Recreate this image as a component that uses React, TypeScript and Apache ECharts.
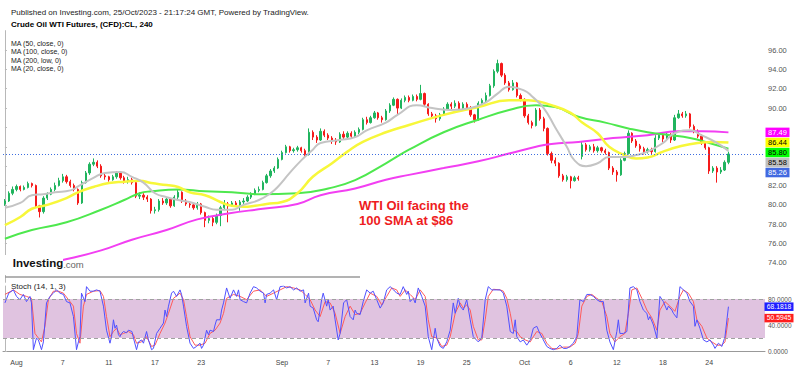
import React, { useEffect, useRef } from "react";
import * as echarts from "echarts";

const FONT = "Liberation Sans, Arial, sans-serif";

// trading days (3 bars of 8h per day)
const days = [
  "Jul 31", "Aug 1", "Aug 2", "Aug 3", "Aug 4", "Aug 7", "Aug 8", "Aug 9", "Aug 10", "Aug 11",
  "Aug 14", "Aug 15", "Aug 16", "Aug 17", "Aug 18", "Aug 21", "Aug 22", "Aug 23", "Aug 24", "Aug 25",
  "Aug 28", "Aug 29", "Aug 30", "Aug 31", "Sep 1", "Sep 4", "Sep 5", "Sep 6", "Sep 7", "Sep 8",
  "Sep 11", "Sep 12", "Sep 13", "Sep 14", "Sep 15", "Sep 18", "Sep 19", "Sep 20", "Sep 21", "Sep 22",
  "Sep 25", "Sep 26", "Sep 27", "Sep 28", "Sep 29", "Oct 2", "Oct 3", "Oct 4", "Oct 5", "Oct 6",
  "Oct 9", "Oct 10", "Oct 11", "Oct 12", "Oct 13", "Oct 16", "Oct 17", "Oct 18", "Oct 19", "Oct 20",
  "Oct 23", "Oct 24", "Oct 25",
];
const sessions = ["00:00", "08:00", "16:00"];
const padBars = 9;

const axisTicks: [string, string][] = [
  ["Aug 1", "Aug"], ["Aug 7", "7"], ["Aug 11", "11"], ["Aug 17", "17"], ["Aug 23", "23"],
  ["Sep 1", "Sep"], ["Sep 7", "7"], ["Sep 13", "13"], ["Sep 19", "19"], ["Sep 25", "25"],
  ["Oct 2", "Oct"], ["Oct 6", "6"], ["Oct 12", "12"], ["Oct 18", "18"], ["Oct 24", "24"],
];

const priceMin = 72;
const priceMax = 98;
const priceStep = 2;

// [open, close, low, high]
const candles: number[][] = [
  [80.1, 80.4, 79.9, 80.6], [80.4, 81.2, 80.3, 81.4], [81.2, 81.6, 81.0, 81.9],
  [81.6, 81.9, 81.4, 82.1], [81.9, 81.6, 81.4, 82.0], [81.6, 81.8, 81.5, 82.0],
  [81.8, 82.2, 81.7, 82.4], [82.2, 82.0, 81.8, 82.3], [82.0, 79.9, 79.7, 82.1],
  [79.9, 79.3, 78.7, 80.0], [79.3, 80.7, 79.1, 80.9], [80.7, 81.1, 80.5, 81.3],
  [81.1, 81.6, 81.0, 81.8], [81.6, 82.0, 81.4, 82.3], [82.0, 82.5, 81.9, 82.8],
  [82.5, 82.9, 82.3, 83.2], [82.9, 82.4, 82.2, 83.1], [82.4, 82.0, 81.8, 82.6],
  [82.0, 81.6, 81.4, 82.2], [81.6, 80.2, 80.0, 81.7], [80.2, 82.3, 80.1, 82.5],
  [82.3, 83.3, 82.2, 83.5], [83.3, 84.2, 83.1, 84.4], [84.2, 84.4, 84.0, 84.8],
  [84.4, 84.0, 83.8, 84.6], [84.0, 83.0, 82.8, 84.2], [83.0, 82.9, 82.6, 83.2],
  [82.9, 82.6, 82.4, 83.0], [82.6, 82.9, 82.5, 83.1], [82.9, 83.3, 82.7, 83.5],
  [83.3, 82.8, 82.6, 83.4], [82.8, 82.4, 82.2, 83.0], [82.4, 82.6, 82.2, 82.9],
  [82.6, 82.3, 82.1, 82.8], [82.3, 80.9, 80.7, 82.4], [80.9, 81.0, 80.6, 81.3],
  [81.0, 80.8, 80.5, 81.2], [80.8, 80.6, 80.3, 81.0], [80.6, 79.4, 79.1, 80.7],
  [79.4, 79.5, 79.1, 79.8], [79.5, 80.4, 79.3, 80.6], [80.4, 80.2, 80.0, 80.7],
  [80.2, 80.6, 80.0, 80.8], [80.6, 79.9, 79.7, 80.7], [79.9, 80.8, 79.8, 81.0],
  [80.8, 81.3, 80.6, 81.6], [81.3, 80.4, 80.2, 81.4], [80.4, 80.1, 79.9, 80.6],
  [80.1, 80.0, 79.7, 80.4], [80.0, 79.7, 79.5, 80.2], [79.7, 80.1, 79.5, 80.3],
  [80.1, 79.2, 79.0, 80.2], [79.2, 78.4, 77.7, 79.3], [78.4, 78.6, 78.1, 78.9],
  [78.6, 78.2, 77.8, 78.8], [78.2, 78.9, 78.0, 79.1], [78.9, 79.7, 77.8, 79.9],
  [79.7, 80.1, 79.5, 80.5], [80.1, 79.9, 78.2, 80.3], [79.9, 80.2, 79.8, 80.4],
  [80.2, 80.0, 79.8, 80.4], [80.0, 80.3, 79.4, 80.5], [80.3, 80.4, 80.1, 80.7],
  [80.4, 80.8, 80.3, 81.0], [80.8, 81.1, 80.6, 81.3], [81.1, 81.5, 81.0, 81.7],
  [81.5, 81.6, 81.3, 81.9], [81.6, 82.3, 81.5, 82.5], [82.3, 83.0, 82.2, 83.2],
  [83.0, 83.5, 82.8, 83.7], [83.5, 83.8, 83.3, 84.0], [83.8, 84.7, 83.7, 84.9],
  [84.7, 85.4, 84.6, 85.6], [85.4, 86.0, 85.3, 86.2], [86.0, 85.6, 85.4, 86.1],
  [85.6, 85.7, 85.4, 85.9], [85.7, 85.9, 85.5, 86.1], [85.9, 85.6, 85.4, 86.0],
  [85.6, 85.2, 85.0, 85.8], [85.2, 87.5, 85.1, 87.9], [87.5, 87.0, 86.7, 87.7],
  [87.0, 86.7, 86.4, 87.2], [86.7, 87.6, 86.6, 87.9], [87.6, 87.2, 87.0, 87.8],
  [87.2, 86.9, 86.7, 87.4], [86.9, 86.6, 86.3, 87.1], [86.6, 86.5, 86.2, 86.9],
  [86.5, 87.3, 86.4, 87.5], [87.3, 87.0, 86.8, 87.6], [87.0, 87.4, 86.8, 87.6],
  [87.4, 87.1, 86.9, 87.6], [87.1, 87.5, 87.0, 87.7], [87.5, 87.8, 87.3, 88.0],
  [87.8, 88.8, 87.7, 89.0], [88.8, 88.5, 88.3, 89.1], [88.5, 89.0, 88.4, 89.2],
  [89.0, 89.5, 88.9, 89.7], [89.5, 89.0, 88.8, 89.6], [89.0, 88.8, 88.5, 89.2],
  [88.8, 89.7, 88.7, 89.9], [89.7, 90.3, 89.5, 90.5], [90.3, 90.9, 90.2, 91.1],
  [90.9, 90.0, 89.4, 91.0], [90.0, 90.8, 89.9, 91.0], [90.8, 91.1, 90.6, 91.3],
  [91.1, 90.8, 90.6, 91.3], [90.8, 91.2, 90.7, 91.4], [91.2, 90.9, 90.7, 91.4],
  [90.9, 91.5, 90.8, 92.4], [91.5, 90.4, 90.2, 91.6], [90.4, 89.4, 89.2, 90.5],
  [89.4, 89.2, 88.9, 89.6], [89.2, 88.9, 88.5, 89.4], [88.9, 89.3, 88.7, 89.5],
  [89.3, 89.9, 89.2, 90.1], [89.9, 90.4, 89.8, 90.6], [90.4, 90.2, 89.9, 90.6],
  [90.2, 90.5, 90.0, 90.8], [90.5, 89.9, 89.7, 90.7], [89.9, 90.4, 89.8, 90.6],
  [90.4, 90.0, 89.8, 90.6], [90.0, 89.3, 89.1, 90.2], [89.3, 88.8, 88.5, 89.4],
  [88.8, 90.5, 88.7, 90.7], [90.5, 90.8, 90.3, 91.0], [90.8, 91.3, 90.6, 91.6],
  [91.3, 92.3, 91.2, 92.5], [92.3, 93.8, 92.1, 94.0], [93.8, 94.6, 93.6, 95.0],
  [94.6, 93.4, 93.2, 94.7], [93.4, 92.6, 92.4, 93.6], [92.6, 91.9, 91.7, 92.8],
  [91.9, 92.6, 91.8, 92.9], [92.6, 91.3, 91.1, 92.7], [91.3, 90.9, 90.7, 91.5],
  [90.9, 89.2, 89.0, 91.0], [89.2, 88.5, 88.3, 89.4], [88.5, 88.2, 87.9, 88.7],
  [88.2, 89.8, 88.1, 90.0], [89.8, 88.9, 88.7, 90.0], [88.9, 87.9, 87.6, 89.1],
  [87.9, 85.3, 85.1, 88.0], [85.3, 84.6, 84.3, 85.5], [84.6, 84.3, 84.0, 84.9],
  [84.3, 83.0, 82.8, 84.4], [83.0, 82.6, 82.4, 83.2], [82.6, 82.9, 82.4, 83.1],
  [82.9, 82.5, 81.7, 83.0], [82.5, 82.8, 82.4, 83.0], [82.8, 82.7, 82.5, 83.0],
  [85.0, 86.2, 84.7, 86.5], [86.2, 85.7, 85.5, 86.4], [85.7, 86.0, 85.5, 86.2],
  [86.0, 85.6, 85.4, 86.3], [85.6, 85.9, 85.4, 86.1], [85.9, 85.6, 85.4, 86.0],
  [85.6, 85.4, 85.2, 85.8], [85.4, 83.8, 83.6, 85.5], [83.8, 83.4, 83.1, 84.0],
  [83.4, 83.1, 82.4, 83.6], [83.1, 84.6, 83.0, 84.8], [84.6, 85.3, 84.5, 85.5],
  [85.3, 87.4, 85.2, 87.7], [87.4, 86.6, 86.4, 87.5], [86.6, 86.1, 85.9, 86.8],
  [86.1, 85.8, 85.5, 86.3], [85.8, 85.5, 85.2, 86.0], [85.5, 85.7, 85.3, 85.9],
  [85.7, 85.5, 85.2, 85.9], [85.5, 86.9, 85.4, 87.2], [86.9, 87.2, 86.7, 87.4],
  [87.2, 86.8, 86.5, 87.4], [86.8, 87.3, 86.6, 87.5], [87.3, 86.7, 86.4, 87.4],
  [86.7, 89.0, 86.6, 89.3], [89.0, 89.4, 88.9, 89.8], [89.4, 89.2, 89.0, 89.6],
  [89.2, 89.4, 89.0, 89.7], [89.4, 88.1, 87.9, 89.5], [88.1, 87.6, 87.4, 88.3],
  [87.6, 87.1, 86.9, 87.8], [87.1, 86.4, 86.2, 87.3], [86.4, 85.9, 85.7, 86.6],
  [85.9, 83.5, 83.2, 86.0], [83.5, 83.8, 83.3, 84.0], [83.8, 83.4, 82.3, 84.0],
  [83.4, 83.6, 83.2, 83.9], [83.6, 84.4, 83.5, 84.6], [84.4, 85.26, 84.2, 85.5],
];

// moving averages: [bar index, value]
const ma20: number[][] = [
  [0, 79.7], [4, 80.2], [7, 81.0], [10, 81.1], [13, 81.3], [17, 81.5], [19, 81.9], [23, 82.8],
  [26, 83.3], [30, 83.4], [33, 82.9], [36, 82.3], [39, 81.2], [42, 80.8], [45, 80.5], [48, 80.3],
  [52, 79.8], [55, 79.5], [59, 79.5], [62, 80.0], [66, 80.5], [69, 81.2], [71, 81.9], [74, 83.3],
  [77, 84.6], [80, 85.7], [82, 86.4], [87, 86.7], [91, 87.0], [94, 87.7], [99, 88.5], [102, 89.3],
  [107, 90.3], [111, 90.0], [116, 89.8], [121, 90.0], [125, 90.6], [128, 91.5], [131, 92.2],
  [135, 91.8], [137, 91.2], [140, 90.0], [143, 88.0], [146, 86.0], [148, 84.6], [151, 84.0],
  [154, 84.3], [157, 84.95], [161, 84.95], [164, 85.15], [167, 85.5], [171, 86.4], [174, 87.4],
  [178, 87.7], [181, 87.2], [185, 86.4], [188, 85.58],
];
const ma50: number[][] = [
  [0, 77.9], [4, 78.75], [7, 79.6], [11, 80.0], [16, 80.7], [19, 81.3], [23, 81.85], [27, 82.25],
  [31, 82.4], [35, 82.5], [38, 82.25], [42, 82.05], [45, 81.85], [48, 81.3], [52, 81.0], [56, 80.3],
  [59, 79.9], [62, 79.8], [65, 79.9], [68, 80.1], [72, 80.3], [76, 81.2], [80, 82.9], [85, 84.3],
  [89, 85.5], [93, 86.5], [99, 87.5], [105, 88.25], [114, 89.3], [123, 90.1], [131, 90.8],
  [136, 90.8], [142, 90.3], [147, 89.5], [150, 88.5], [154, 87.4], [157, 86.0], [161, 85.15],
  [164, 84.8], [167, 84.9], [171, 85.5], [175, 86.0], [180, 86.4], [184, 86.5], [188, 86.44],
];
const ma100: number[][] = [
  [0, 76.5], [7, 77.4], [16, 78.2], [25, 79.5], [31, 80.5], [35, 81.2], [38, 81.4], [45, 81.6],
  [52, 81.4], [59, 81.3], [66, 81.1], [76, 81.2], [84, 81.7], [91, 82.55], [99, 84.3], [105, 85.7],
  [114, 87.5], [123, 88.8], [131, 89.8], [138, 90.3], [143, 90.1], [149, 89.1], [156, 88.5],
  [162, 87.9], [167, 87.5], [173, 87.2], [178, 86.9], [183, 86.4], [188, 85.8],
];
const ma200: number[][] = [
  [0, 72.9], [14, 74.2], [25, 75.3], [33, 76.4], [42, 77.4], [50, 78.5], [58, 79.1], [67, 79.6],
  [76, 80.1], [82, 81.0], [91, 81.7], [99, 82.6], [105, 83.1], [114, 83.8], [123, 84.5],
  [131, 85.3], [138, 86.0], [142, 86.3], [149, 86.5], [158, 86.9], [167, 87.2], [175, 87.6],
  [181, 87.6], [188, 87.49],
];

// Stochastic (14, 1, 3): [bar index, value]
const stochK: number[][] = [
  [0, 74], [1, 89], [2.2, 94], [3, 84], [3.9, 79], [4.8, 87], [5.6, 76], [6.5, 84], [6.9, 74], [7.4, 2],
  [8.2, 20], [8.7, 17], [9.5, 2], [10, 14], [10.8, 74], [11.7, 84], [12.6, 89], [13.4, 94], [14.3, 89],
  [15.2, 87], [16, 76], [16.9, 74], [17.8, 53], [18.6, 2], [19.1, 14], [19.5, 22], [19.9, 89], [20.8, 76],
  [21.2, 99], [22.1, 92], [23, 92], [23.8, 94], [24.7, 92], [25.6, 69], [26.4, 32], [27.3, 12], [27.7, 22],
  [28.2, 48], [28.6, 35], [29, 40], [29.5, 25], [29.9, 22], [30.3, 27], [30.8, 30], [31.6, 28], [32.1, 32],
  [33, 30], [33.4, 20], [34.2, 2], [34.7, 14], [35.5, 17], [36, 12], [36.8, 30], [37.3, 17], [38.1, 2],
  [38.6, 4], [39.4, 27], [40.3, 35], [41.2, 43], [41.6, 63], [42, 53], [42.5, 69], [43.3, 89], [43.8, 92],
  [44.6, 84], [45.5, 94], [45.9, 87], [46.4, 69], [47.2, 38], [48.1, 12], [49, 4], [49.8, 7], [50.7, 12],
  [51.1, 4], [51.6, 9], [52.4, 32], [52.9, 25], [53.3, 32], [54.2, 30], [54.6, 40], [55, 48], [55.9, 48],
  [56.3, 63], [56.8, 74], [57.6, 97], [58.5, 81], [59.4, 94], [60.2, 84], [60.7, 94], [61.1, 79], [62, 76],
  [62.8, 74], [63.7, 89], [64.6, 99], [65.4, 97], [66.3, 92], [67.2, 89], [67.6, 74], [68, 87], [68.9, 89],
  [69.8, 94], [70.6, 79], [71.5, 99], [72.4, 100], [73.2, 97], [74.1, 99], [75, 94], [75.8, 97], [76.7, 92],
  [77.6, 94], [78, 74], [78.9, 89], [79.3, 69], [80.1, 66], [81, 48], [81.4, 45], [82.3, 79], [82.7, 89],
  [83.6, 69], [84, 79], [84.5, 63], [85.3, 69], [85.8, 48], [86.6, 17], [87.1, 27], [88, 74], [88.8, 79],
  [89.7, 53], [90.5, 48], [91, 63], [91.4, 58], [92.3, 56], [93.1, 76], [94, 94], [94.9, 89], [95.7, 92],
  [96.6, 79], [97.5, 66], [98.3, 74], [99.2, 94], [100.1, 99], [101, 94], [101.8, 89],
  [102.7, 87], [103.5, 99], [104.4, 87], [104.8, 92], [105.3, 76], [106.1, 81], [106.6, 74], [107.4, 97],
  [108.3, 84], [109.2, 69], [110, 22], [110.9, 2], [111.8, 35], [112.2, 20], [113.1, 7], [113.9, 4],
  [114.8, 14], [115.7, 32], [116.5, 74], [117, 58], [117.8, 81], [118.3, 69], [119.1, 63], [120, 79],
  [120.9, 48], [121.7, 22], [123, 14], [123.9, 20], [124.8, 79], [125.6, 99], [126.5, 94], [127.8, 94],
  [128.7, 94], [129.5, 89], [130.4, 69], [131.3, 30], [132.1, 27], [132.6, 48], [133, 22], [133.9, 14],
  [134.7, 17], [135.6, 9], [136.5, 17], [137.3, 35], [138.2, 38], [139, 27], [139.9, 17], [140.8, 7],
  [141.6, 4], [142.5, 2], [143.4, 4], [144.2, 9], [145.1, 4], [146, 4], [146.8, 7], [147.7, 12],
  [148.6, 22], [149.4, 79], [150.3, 76], [151.2, 87], [152, 87], [152.9, 84], [153.8, 79], [154.6, 76],
  [155.5, 76], [156.4, 32], [157.2, 14], [158.1, 2], [159, 30], [159.4, 48], [159.8, 27], [160.7, 27],
  [161.6, 30], [162.4, 97], [163.3, 99], [164.2, 94], [165, 76], [165.9, 63], [166.8, 58], [167.2, 48],
  [167.6, 53], [168.5, 40], [169.4, 20], [170.2, 84], [171.1, 76], [172, 63], [172.4, 69], [173.3, 63],
  [173.7, 58], [174.6, 51], [175.4, 99], [176.3, 94], [177.2, 89], [178, 76], [178.9, 69], [179.3, 38],
  [179.8, 48], [180.6, 35], [181.5, 17], [182.4, 14], [183.2, 17], [184.1, 9], [184.5, 4], [185.4, 12],
  [186.3, 7], [187.1, 22], [188, 68.1818],
];
const stochD: number[][] = [
  [0, 87], [2.2, 94], [3.9, 87], [5.6, 84], [6.9, 81], [7.8, 27], [8.7, 20], [9.5, 14], [10.4, 38],
  [11.3, 79], [12.6, 92], [13.9, 92], [15.2, 89], [16.5, 79], [17.8, 69], [18.6, 27], [19.5, 12],
  [20.4, 69], [21.2, 87], [23, 92], [24.7, 93], [25.6, 84], [26.4, 53], [27.3, 22], [28.2, 30], [29, 35],
  [29.9, 25], [30.8, 27], [32.1, 30], [33.4, 25], [34.2, 12], [35.5, 14], [36.8, 22], [38.1, 7], [39, 9],
  [40.3, 27], [41.6, 43], [42.5, 58], [43.8, 81], [45.5, 89], [46.4, 79], [47.2, 53], [48.1, 22],
  [49.4, 9], [50.7, 9], [52, 12], [53.3, 27], [54.6, 32], [55.9, 43], [56.8, 58], [57.6, 81], [59.4, 87],
  [61.1, 84], [62.8, 79], [64.6, 92], [66.3, 94], [68, 84], [69.8, 89], [71.5, 94], [73.2, 99], [75, 97],
  [76.7, 94], [78, 87], [79.3, 79], [80.6, 63], [81.9, 53], [83.2, 76], [84.5, 74], [85.8, 58], [87.1, 27],
  [88.4, 53], [89.7, 69], [91, 56], [92.3, 58], [93.6, 74], [94.9, 89], [96.6, 84], [97.9, 71], [99.2, 84],
  [100.5, 97], [101.8, 94], [102.7, 84], [104, 94], [105.3, 87], [106.6, 79], [107.9, 94], [109.2, 84],
  [110, 48], [110.9, 22], [112.2, 20], [113.5, 7], [114.8, 9], [115.7, 22], [117, 58], [118.3, 74],
  [119.1, 66], [120, 71], [120.9, 63], [121.7, 38], [123, 17], [123.9, 17], [124.8, 48], [125.6, 84],
  [126.9, 95], [128.7, 94], [129.5, 92], [130.4, 81], [131.3, 58], [132.1, 32], [133, 30], [133.9, 22],
  [135.2, 17], [136.5, 14], [137.3, 22], [138.2, 30], [139.5, 27], [140.8, 12], [142.1, 4], [143.4, 3],
  [145.1, 6], [146.8, 6], [148.2, 12], [149, 27], [149.9, 69], [151.2, 84], [152.5, 87], [153.8, 81],
  [155.1, 76], [156.4, 53], [157.2, 27], [158.5, 14], [159.8, 22], [161.1, 27], [162, 58], [162.9, 94],
  [164.2, 97], [165.5, 81], [166.8, 63], [168.1, 51], [169.4, 32], [170.2, 63], [171.5, 76], [172.8, 69],
  [174.1, 61], [175.4, 84], [176.3, 94], [177.6, 89], [178.9, 76], [179.8, 48], [181.1, 38], [182.4, 20],
  [183.7, 14], [185, 9], [186.3, 9], [187.1, 14], [188, 50.5945],
];

const legendLines = ["MA (50, close, 0)", "MA (100, close, 0)", "MA (200, low, 0)", "MA (20, close, 0)"];

export default function App() {
  const ref = useRef<HTMLDivElement>(null);

  useEffect(() => {
    const chart = echarts.init(ref.current!, null, { renderer: "svg" });
    const categories = days
      .flatMap((d) => sessions.map((s) => `${d} ${s}`))
      .concat(Array.from({ length: padBars }, (_, k) => `pad ${k}`));
    const tickIndex = new Map<number, string>(
      axisTicks.map(([d, lab]) => [days.indexOf(d) * sessions.length, lab])
    );
    const lastClose = candles[candles.length - 1][1];
    const nCat = categories.length;

    const lineSeries = (data: number[][], color: string, width: number) => ({
      type: "line",
      xAxisIndex: 1,
      yAxisIndex: 0,
      data,
      smooth: 0.5,
      symbol: "none",
      silent: true,
      lineStyle: { color, width },
    });

    chart.setOption({
      animation: false,
      grid: [
        { left: 3, top: 30.64, width: 762, height: 251.68 },
        { left: 3, top: 286, width: 762, height: 65 },
      ],
      xAxis: [
        { type: "category", gridIndex: 0, data: categories, show: false, boundaryGap: true },
        { type: "value", gridIndex: 0, min: -0.5, max: nCat - 0.5, show: false },
        {
          type: "category",
          gridIndex: 1,
          data: categories,
          position: "bottom",
          offset: 5,
          boundaryGap: true,
          axisLine: { lineStyle: { color: "#999", width: 1 } },
          axisTick: {
            alignWithLabel: true,
            interval: (i: number) => tickIndex.has(i),
            length: 3,
            lineStyle: { color: "#999" },
          },
          axisLabel: {
            interval: (i: number) => tickIndex.has(i),
            formatter: (_v: string, i: number) => tickIndex.get(i) ?? "",
            fontSize: 7,
            color: "#444",
            margin: 3,
            fontFamily: FONT,
          },
        },
        { type: "value", gridIndex: 1, min: -0.5, max: nCat - 0.5, show: false },
      ],
      yAxis: [
        {
          type: "value",
          gridIndex: 0,
          position: "right",
          min: priceMin,
          max: priceMax,
          interval: priceStep,
          splitLine: { show: false },
          axisLine: { show: true, lineStyle: { color: "#b8b8b8" } },
          axisTick: { show: true, length: 2, lineStyle: { color: "#b8b8b8" } },
          axisLabel: {
            fontSize: 7.5,
            color: "#555",
            margin: 3,
            fontFamily: FONT,
            showMinLabel: false,
            showMaxLabel: false,
            formatter: (v: number) => v.toFixed(2),
          },
        },
        {
          type: "value",
          gridIndex: 1,
          position: "right",
          min: 0,
          max: 100,
          interval: 40,
          splitLine: { show: false },
          axisLine: { show: true, lineStyle: { color: "#b8b8b8" } },
          axisTick: { show: true, length: 2, lineStyle: { color: "#b8b8b8" } },
          axisLabel: {
            fontSize: 6.5,
            padding: [2, 0, 0, 0],
            color: "#555",
            margin: 3,
            fontFamily: FONT,
            showMaxLabel: false,
            formatter: (v: number) => v.toFixed(4),
          },
        },
      ],
      series: [
        {
          type: "candlestick",
          xAxisIndex: 0,
          yAxisIndex: 0,
          data: candles,
          barWidth: 1.8,
          silent: true,
          itemStyle: {
            color: "#20b45e",
            color0: "#f51a1a",
            borderColor: "#20b45e",
            borderColor0: "#f51a1a",
            borderWidth: 1,
          },
          markLine: {
            silent: true,
            symbol: ["none", "none"],
            label: { show: false },
            lineStyle: { color: "#3d6de0", type: [1, 2], width: 1 },
            data: [{ yAxis: lastClose }],
          },
        },
        lineSeries(ma200, "#f23ff2", 2),
        lineSeries(ma100, "#4ee84e", 2),
        lineSeries(ma50, "#f7f73a", 2.5),
        lineSeries(ma20, "#c4c4c4", 2),
        {
          type: "line",
          xAxisIndex: 3,
          yAxisIndex: 1,
          data: stochD,
          symbol: "none",
          silent: true,
          lineStyle: { color: "#ff5a5a", width: 1 },
          markArea: {
            silent: true,
            itemStyle: { color: "#e0c3e0" },
            data: [[{ yAxis: 20 }, { yAxis: 80 }]],
          },
          markLine: {
            silent: true,
            symbol: ["none", "none"],
            label: { show: false },
            lineStyle: { color: "#a0a0a0", type: [4, 3], width: 1 },
            data: [{ yAxis: 20 }, { yAxis: 80 }],
          },
        },
        {
          type: "line",
          xAxisIndex: 3,
          yAxisIndex: 1,
          data: stochK,
          symbol: "none",
          silent: true,
          lineStyle: { color: "#5050ff", width: 1 },
        },
      ],
    });

    // right-hand value labels, stacked like the original
    const priceLabels = [
      { v: ma200[ma200.length - 1][1], bg: "#ff00ff", fg: "#ffffff" },
      { v: ma50[ma50.length - 1][1], bg: "#ffff00", fg: "#000000" },
      { v: ma100[ma100.length - 1][1], bg: "#00ff00", fg: "#000000" },
      { v: ma20[ma20.length - 1][1], bg: "#c0c0c0", fg: "#000000" },
      { v: lastClose, bg: "#4169e1", fg: "#ffffff" },
    ].sort((a, b) => b.v - a.v);
    const graphics: any[] = [];
    const boxes: [number, number][] = [];
    let prevY = -1e9;
    priceLabels.forEach((l) => {
      let y = chart.convertToPixel({ yAxisIndex: 0 } as any, l.v) as number;
      y = Math.max(y, prevY + 10);
      prevY = y;
      boxes.push([y - 4.75, y + 4.75]);
      graphics.push({
        type: "rect",
        z: 100,
        shape: { x: 765.5, y: y - 4.75, width: 24, height: 9.5 },
        style: { fill: l.bg },
      });
      graphics.push({
        type: "text",
        z: 101,
        x: 777.5,
        y,
        style: { text: l.v.toFixed(2), fill: l.fg, fontSize: 7.5, fontFamily: FONT, align: "center", verticalAlign: "middle" },
      });
    });
    // axis labels hidden behind the value boxes (as in the original)
    const hidden = new Set<number>();
    for (let v = priceMin; v <= priceMax; v += priceStep) {
      const y = chart.convertToPixel({ yAxisIndex: 0 } as any, v) as number;
      if (boxes.some(([a, b]) => y + 4 > a && y - 4 < b)) hidden.add(v);
    }

    const stochLabels = [
      { v: stochK[stochK.length - 1][1], bg: "#1e1eff" },
      { v: stochD[stochD.length - 1][1], bg: "#ff1e1e" },
    ];
    stochLabels.forEach((l) => {
      const y = chart.convertToPixel({ yAxisIndex: 1 } as any, l.v) as number;
      graphics.push({
        type: "rect",
        z: 100,
        shape: { x: 764.5, y: y - 4.25, width: 29, height: 8.5 },
        style: { fill: l.bg },
      });
      graphics.push({
        type: "text",
        z: 101,
        x: 779,
        y: y - 0.5,
        style: {
          text: l.v.toFixed(4),
          fill: "#ffffff",
          fontSize: 6.8,
          fontFamily: FONT,
          align: "center",
          verticalAlign: "middle",
        },
      });
    });

    const txt = (text: string, x: number, y: number, extra: any = {}) => ({
      type: "text",
      z: 90,
      x,
      y,
      style: { text, fill: "#222", fontSize: 8, fontFamily: FONT, verticalAlign: "middle", ...extra },
    });

    graphics.push(
      txt("Published on Investing.com, 25/Oct/2023 - 21:17:24 GMT, Powered by TradingView.", 11, 12.3),
      txt("Crude Oil WTI Futures, (CFD):CL, 240", 11, 24.7, { fontWeight: "bold", fill: "#000" }),
      ...legendLines.map((s, k) => txt(s, 11, 43.3 + k * 8.5, { fontSize: 7 })),
      txt("Stoch (14, 1, 3)", 11, 286),
      {
        type: "text",
        z: 90,
        x: 359,
        y: 198.2,
        style: {
          text: "WTI Oil facing the\n100 SMA at $86",
          fill: "#ee1c22",
          fontSize: 13,
          fontWeight: "bold",
          fontFamily: FONT,
          lineHeight: 15,
          verticalAlign: "top",
        },
      },
      { type: "rect", z: 80, shape: { x: 4, y: 255, width: 59, height: 20 }, style: { fill: "#ffffff" } },
      txt("Investing", 12.7, 263, { fontSize: 11.5, fontWeight: "bold", fill: "#111" }),
      txt(".com", 63.2, 264.5, { fontSize: 9.5, fill: "#666" }),
      {
        type: "line",
        z: 90,
        shape: { x1: 5, y1: 277, x2: 360, y2: 277 },
        style: { stroke: "#9a9a9a", lineWidth: 1.5 },
      }
    );

    chart.setOption({
      yAxis: [
        {
          axisLabel: {
            formatter: (v: number) => (hidden.has(v) ? "" : v.toFixed(2)),
          },
        },
        {},
      ],
      graphic: graphics,
    });
    return () => chart.dispose();
  }, []);

  return (
    <div
      ref={ref}
      style={{ position: "fixed", left: 0, top: 0, width: 800, height: 371, background: "#fff" }}
    />
  );
}
